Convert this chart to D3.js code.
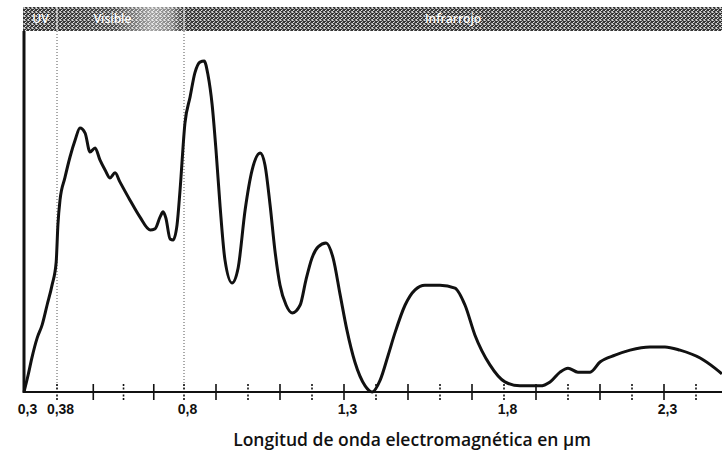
<!DOCTYPE html>
<html>
<head>
<meta charset="utf-8">
<script src="https://cdn.jsdelivr.net/npm/d3@7/dist/d3.min.js"></script>
<style>
	body { margin: 0; background: #fff; }
	svg { display: block; }
	.tick-label { font-family: 'Liberation Sans', sans-serif; font-weight: bold; font-size: 14px; fill: #111; }
	.band-label { font-family: 'Open Sans', sans-serif; font-size: 12px; fill: #fff; font-weight: 600; }
	.axis-title { font-family: 'Open Sans', sans-serif; font-size: 17.5px; font-weight: 600; fill: #111; }
</style>
</head>
<body>
<div id="chart"></div>
<script>
let width = 722
let height = 459

// wavelength (µm) and relative intensity
let wavelength = [0.300, 0.310, 0.319, 0.332, 0.344, 0.356, 0.368, 0.378, 0.383, 0.390,
	0.406, 0.423, 0.440, 0.456, 0.473, 0.489, 0.506, 0.522, 0.539, 0.555,
	0.572, 0.588, 0.621, 0.654, 0.688, 0.704, 0.721, 0.731, 0.740, 0.754,
	0.764, 0.777, 0.787, 0.803, 0.819, 0.834, 0.850, 0.863, 0.875, 0.888,
	0.900, 0.913, 0.928, 0.950, 0.969, 0.991, 1.013, 1.038, 1.053, 1.069,
	1.084, 1.100, 1.119, 1.138, 1.163, 1.181, 1.200, 1.219, 1.244, 1.266,
	1.288, 1.309, 1.334, 1.366, 1.388, 1.413, 1.438, 1.459, 1.491, 1.522,
	1.553, 1.600, 1.647, 1.678, 1.709, 1.756, 1.803, 1.850, 1.913, 1.944,
	1.975, 2.000, 2.031, 2.069, 2.100, 2.147, 2.194, 2.256, 2.303, 2.350,
	2.413, 2.459, 2.481]

let intensity = [0, 4.7, 9.4, 15.0, 18.6, 24.1, 29.6, 36.0, 46.3, 53.2,
	59.3, 65.1, 69.8, 73.1, 71.7, 66.5, 67.6, 64.3, 61.5, 59.3,
	60.7, 58.2, 53.2, 48.5, 44.9, 45.2, 48.5, 49.9, 48.2, 42.4,
	42.1, 46.3, 56.0, 74.5, 81.7, 88.4, 91.4, 91.7, 87.8, 79.5,
	67.0, 51.2, 36.6, 30.2, 34.3, 50.4, 61.5, 66.2, 62.9, 51.8,
	39.3, 29.6, 24.1, 21.9, 24.1, 31.0, 37.1, 40.2, 41.3, 37.1,
	26.9, 17.2, 8.3, 1.7, 0, 3.3, 10.2, 16.3, 24.1, 28.3,
	29.6, 29.6, 28.8, 24.1, 15.8, 7.5, 2.8, 1.7, 1.7, 2.8,
	5.5, 6.6, 5.5, 5.5, 8.3, 10.2, 11.6, 12.5, 12.5, 11.6,
	9.4, 6.6, 5.0]

let tickValues = [0.3, 0.38, 0.8, 1.3, 1.8, 2.3]
let tickLabels = ['0,3', '0,38', '0,8', '1,3', '1,8', '2,3']
let minorTicks = [0.38, 0.5, 0.6, 0.7, 0.8, 0.9, 1.0, 1.1, 1.2, 1.3, 1.4, 1.5, 1.6, 1.7, 1.8, 1.9, 2.0, 2.1, 2.2, 2.3, 2.4]

let bandNames = ['UV', 'Visible', 'Infrarrojo']
let bandFrom = [0.3, 0.38, 0.8]
let bandTo = [0.38, 0.8, 2.5]
let dividers = [0.38, 0.8]

let plot = {
	left : 24,
	top : 31,
	bottom : 392,
	headerTop : 7,
}

// the printed axis squeezes the UV strip, so the scale is piecewise
let xScale = d3.scaleLinear()
	.domain([0.3, 0.38, 0.8, 2.5])
	.range([plot.left, 57, 184, 728])

let yScale = d3.scaleLinear()
	.domain([0, 100])
	.range([plot.bottom, plot.top])

let svg = d3.select('#chart').append('svg')
	.attr('width', width)
	.attr('height', height)

let defs = svg.append('defs')

// halftone look for the header strip
let pat = defs.append('pattern')
	.attr('id', 'dots')
	.attr('width', 4)
	.attr('height', 4)
	.attr('patternUnits', 'userSpaceOnUse')
pat.append('rect').attr('width', 4).attr('height', 4).attr('fill', '#333')
let dotSpots = [[0, 0, '#d8d8d8'], [2, 1, '#b0b0b0'], [1, 2, '#e4e4e4'], [3, 3, '#a0a0a0'], [3, 0, '#888'], [0, 3, '#c4c4c4'], [2, 2, '#666'], [1, 0, '#999']]
dotSpots.forEach((s) => {
	pat.append('rect').attr('x', s[0]).attr('y', s[1]).attr('width', 1).attr('height', 1).attr('fill', s[2])
})

let grad = defs.append('linearGradient')
	.attr('id', 'visGrad')
	.attr('x1', '0%').attr('x2', '100%')
grad.append('stop').attr('offset', '0%').attr('stop-color', '#fff').attr('stop-opacity', 0)
grad.append('stop').attr('offset', '45%').attr('stop-color', '#fff').attr('stop-opacity', 0.1)
grad.append('stop').attr('offset', '75%').attr('stop-color', '#fff').attr('stop-opacity', 0.55)
grad.append('stop').attr('offset', '90%').attr('stop-color', '#fff').attr('stop-opacity', 0.4)
grad.append('stop').attr('offset', '100%').attr('stop-color', '#fff').attr('stop-opacity', 0)

let header = svg.append('g')

header.append('rect')
	.attr('x', plot.left - 1)
	.attr('y', plot.headerTop)
	.attr('width', width - plot.left + 1)
	.attr('height', plot.top - plot.headerTop)
	.attr('fill', 'url(#dots)')

header.append('rect')
	.attr('x', xScale(bandFrom[1]))
	.attr('y', plot.headerTop)
	.attr('width', xScale(bandTo[1]) - xScale(bandFrom[1]))
	.attr('height', plot.top - plot.headerTop)
	.attr('fill', 'url(#visGrad)')

header.selectAll('line.div')
	.data(dividers)
	.enter()
	.append('line')
	.attr('x1', (d) => xScale(d))
	.attr('x2', (d) => xScale(d))
	.attr('y1', plot.headerTop)
	.attr('y2', plot.top)
	.attr('stroke', '#eee')
	.attr('stroke-width', 1)

let bandLabelX = (i) => {
	let right = Math.min(xScale(bandTo[i]), width)
	let mid = (xScale(bandFrom[i]) + right) / 2
	return i === 1 ? mid - 8 : mid
}

header.selectAll('text')
	.data(bandNames)
	.enter()
	.append('text')
	.attr('class', 'band-label')
	.attr('x', (d, i) => bandLabelX(i))
	.attr('y', 23)
	.attr('text-anchor', 'middle')
	.text((d) => d)

// dotted guides at the band limits
svg.selectAll('line.guide')
	.data(dividers)
	.enter()
	.append('line')
	.attr('class', 'guide')
	.attr('x1', (d) => xScale(d))
	.attr('x2', (d) => xScale(d))
	.attr('y1', plot.top)
	.attr('y2', plot.bottom)
	.attr('stroke', '#555')
	.attr('stroke-width', 1)
	.attr('stroke-dasharray', '1,2')

// minor ticks crossing the baseline
svg.append('g')
	.selectAll('line')
	.data(minorTicks)
	.enter()
	.append('line')
	.attr('x1', (d) => xScale(d))
	.attr('x2', (d) => xScale(d))
	.attr('y1', plot.bottom - 8)
	.attr('y2', plot.bottom + 8)
	.attr('stroke', '#111')
	.attr('stroke-width', 1.6)
	.attr('stroke-dasharray', (d, i) => i % 2 === 0 ? '2,1.5' : null)

let xAxis = d3.axisBottom(xScale)
	.tickValues(tickValues)
	.tickSize(0)
	.tickPadding(12)
	.tickFormat((d, i) => tickLabels[i])

let axisG = svg.append('g')
	.attr('transform', `translate(0,${plot.bottom})`)
	.call(xAxis)
axisG.select('.domain').remove()
axisG.selectAll('.tick text')
	.attr('class', 'tick-label')
	.attr('dx', 3)
	.attr('font-family', null)
	.attr('font-size', null)

// baseline and left edge
svg.append('line')
	.attr('x1', plot.left)
	.attr('x2', width)
	.attr('y1', plot.bottom)
	.attr('y2', plot.bottom)
	.attr('stroke', '#111')
	.attr('stroke-width', 2.2)

svg.append('line')
	.attr('x1', plot.left)
	.attr('x2', plot.left)
	.attr('y1', plot.top)
	.attr('y2', plot.bottom + 1)
	.attr('stroke', '#111')
	.attr('stroke-width', 3)

let points = wavelength.map((w, i) => [w, intensity[i]])

let line = d3.line()
	.x((d) => xScale(d[0]))
	.y((d) => yScale(d[1]))
	.curve(d3.curveMonotoneX)

svg.append('path')
	.datum(points)
	.attr('d', line)
	.attr('fill', 'none')
	.attr('stroke', '#111')
	.attr('stroke-width', 3)
	.attr('stroke-linejoin', 'round')

svg.append('text')
	.attr('class', 'axis-title')
	.attr('x', 412)
	.attr('y', 446)
	.attr('text-anchor', 'middle')
	.text('Longitud de onda electromagnética en µm')
</script>
</body>
</html>
